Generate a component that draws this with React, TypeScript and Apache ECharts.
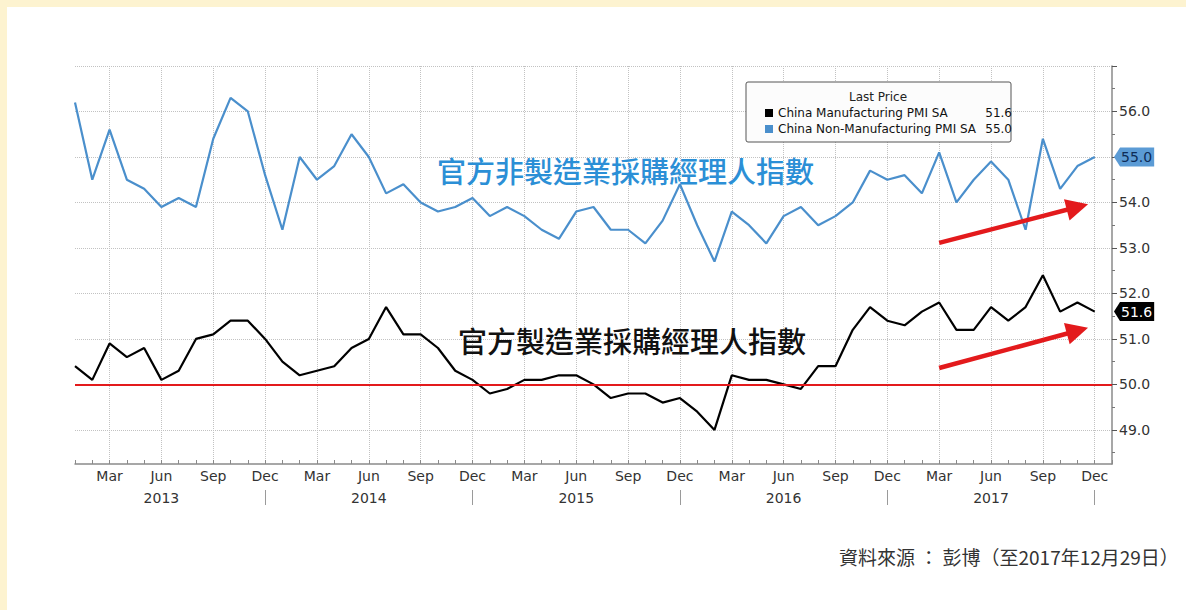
import React, { useEffect, useRef } from "react";
import * as echarts from "echarts";

// ---------- data ----------
const monthNames = ["Jan", "Feb", "Mar", "Apr", "May", "Jun", "Jul", "Aug", "Sep", "Oct", "Nov", "Dec"];
const years = [2013, 2014, 2015, 2016, 2017];
const categories: string[] = [];
years.forEach((y) => monthNames.forEach((_, i) => categories.push(`${y}-${String(i + 1).padStart(2, "0")}`)));
categories.push("2018-01"); // empty slot to the right of the last month

const mfgName = "China Manufacturing PMI SA";
const nonMfgName = "China Non-Manufacturing PMI SA";

const manufacturing = [
  50.4, 50.1, 50.9, 50.6, 50.8, 50.1, 50.3, 51.0, 51.1, 51.4, 51.4, 51.0,
  50.5, 50.2, 50.3, 50.4, 50.8, 51.0, 51.7, 51.1, 51.1, 50.8, 50.3, 50.1,
  49.8, 49.9, 50.1, 50.1, 50.2, 50.2, 50.0, 49.7, 49.8, 49.8, 49.6, 49.7,
  49.4, 49.0, 50.2, 50.1, 50.1, 50.0, 49.9, 50.4, 50.4, 51.2, 51.7, 51.4,
  51.3, 51.6, 51.8, 51.2, 51.2, 51.7, 51.4, 51.7, 52.4, 51.6, 51.8, 51.6,
];
const nonManufacturing = [
  56.2, 54.5, 55.6, 54.5, 54.3, 53.9, 54.1, 53.9, 55.4, 56.3, 56.0, 54.6,
  53.4, 55.0, 54.5, 54.8, 55.5, 55.0, 54.2, 54.4, 54.0, 53.8, 53.9, 54.1,
  53.7, 53.9, 53.7, 53.4, 53.2, 53.8, 53.9, 53.4, 53.4, 53.1, 53.6, 54.4,
  53.5, 52.7, 53.8, 53.5, 53.1, 53.7, 53.9, 53.5, 53.7, 54.0, 54.7, 54.5,
  54.6, 54.2, 55.1, 54.0, 54.5, 54.9, 54.5, 53.4, 55.4, 54.3, 54.8, 55.0,
];

const yMin = 48.25;
const yMax = 57;
const yTickValues = [49, 50, 51, 52, 53, 54, 55, 56, 57];
const yLabelValues = [49, 50, 51, 52, 53, 54, 55, 56];
const yMinorTickValues = [48.5, 49.5, 50.5, 51.5, 52.5, 53.5, 54.5, 55.5, 56.5];
const thresholdLine = 50;

// trend arrows: [startIndex, startValue, endIndex, endValue]
const upperArrow = [50, 53.11, 57.78, 53.9];
const lowerArrow = [50, 50.36, 57.78, 51.18];

const lastMfg = manufacturing[manufacturing.length - 1];
const lastNonMfg = nonManufacturing[nonManufacturing.length - 1];

const labelNonMfg = "官方非製造業採購經理人指數";
const labelMfg = "官方製造業採購經理人指數";
const sourceText = "資料來源 ： 彭博（至2017年12月29日）";

// ---------- style ----------
const latin = "'DejaVu Sans', Verdana, sans-serif";
const cjk = "'Noto Sans CJK TC', 'Noto Sans CJK SC', sans-serif";
const blue = "#4a8fcc";
const tagBlue = "#5b9bd5";
const red = "#e31a1c";
const gridStyle = { color: "#c2c2c2", type: "dotted" as const, width: 1 };

const triangle = (fill: string) =>
  "data:image/svg+xml;charset=utf-8," +
  encodeURIComponent(
    `<svg xmlns="http://www.w3.org/2000/svg" width="6" height="19" viewBox="0 0 6 19"><polygon points="6,0 0,9.5 6,19" fill="${fill}"/></svg>`
  );

export default function App() {
  const ref = useRef<HTMLDivElement>(null);

  useEffect(() => {
    if (!ref.current) return;
    const chart = echarts.init(ref.current, undefined, { renderer: "svg" });

    const option: any = {
      animation: false,
      grid: { left: 75, right: 74, top: 66, bottom: 146 },
      legend: {
        data: [mfgName, nonMfgName],
        orient: "vertical",
        left: 760,
        top: 101,
        itemWidth: 8,
        itemHeight: 8,
        itemGap: 2,
        icon: "rect",
        selectedMode: false,
        z: 6,
        formatter: (name: string) =>
          `{n|${name}}{v|${(name === mfgName ? lastMfg : lastNonMfg).toFixed(1)}}`,
        textStyle: {
          fontFamily: latin,
          fontSize: 12,
          color: "#111",
          lineHeight: 14,
          rich: {
            n: { width: 204, fontFamily: latin, fontSize: 12, color: "#111" },
            v: { width: 30, align: "right", fontFamily: latin, fontSize: 12, color: "#111" },
          },
        },
      },
      xAxis: [
        {
          type: "category",
          data: categories,
          boundaryGap: false,
          axisLine: { show: true, lineStyle: { color: "#8a8a8a", width: 1.5 } },
          axisTick: { show: true, inside: true, length: 4, interval: 0, lineStyle: { color: "#8a8a8a" } },
          axisLabel: {
            interval: (i: number) => i % 3 === 2,
            formatter: (v: string) => monthNames[Number(v.slice(5)) - 1],
            color: "#333",
            fontSize: 14,
            fontFamily: latin,
            margin: 5,
          },
          splitLine: { show: true, interval: (i: number) => i % 3 === 2, lineStyle: gridStyle },
        },
        {
          type: "category",
          data: categories,
          boundaryGap: false,
          position: "bottom",
          offset: 26,
          axisLine: { show: false },
          axisTick: { show: true, interval: (i: number) => i % 12 === 11, length: 15, lineStyle: { color: "#9a9a9a" } },
          axisLabel: {
            interval: (i: number) => i % 12 === 5,
            formatter: (v: string) => v.slice(0, 4),
            color: "#333",
            fontSize: 14,
            fontFamily: latin,
            margin: 1,
          },
          splitLine: { show: false },
        },
      ],
      yAxis: [
        {
          type: "value",
          position: "right",
          min: yMin,
          max: yMax,
          axisLine: { show: true, lineStyle: { color: "#8a8a8a", width: 1.5 } },
          axisTick: { show: true, customValues: yTickValues, length: 5, lineStyle: { color: "#555" } },
          axisLabel: {
            customValues: yLabelValues,
            formatter: (v: number) => v.toFixed(1),
            margin: 7,
            color: "#333",
            fontSize: 14,
            fontFamily: latin,
          },
          splitLine: { show: true, lineStyle: gridStyle },
        },
        {
          type: "value",
          position: "right",
          min: yMin,
          max: yMax,
          axisLine: { show: false },
          axisTick: { show: true, customValues: yMinorTickValues, length: 3, lineStyle: { color: "#777" } },
          axisLabel: { show: false },
          splitLine: { show: false },
        },
        {
          type: "value",
          position: "right",
          min: yMin,
          max: yMax,
          axisLine: { show: false },
          axisTick: { show: false },
          splitLine: { show: false },
          axisLabel: {
            customValues: [lastNonMfg, lastMfg],
            margin: 2,
            formatter: (v: number) =>
              Math.abs(v - lastNonMfg) < 1e-9 ? `{tb|}{b|${v.toFixed(1)}}` : `{tk|}{k|${v.toFixed(1)}}`,
            rich: {
              tb: { width: 6, height: 19, backgroundColor: { image: triangle(tagBlue) } },
              b: {
                backgroundColor: tagBlue,
                color: "#0d2b57",
                fontSize: 14,
                fontFamily: latin,
                height: 19,
                lineHeight: 19,
                padding: [0, 2, 0, 1],
              },
              tk: { width: 6, height: 19, backgroundColor: { image: triangle("#000") } },
              k: {
                backgroundColor: "#000",
                color: "#fff",
                fontSize: 14,
                fontFamily: latin,
                height: 19,
                lineHeight: 19,
                padding: [0, 2, 0, 1],
              },
            },
          },
        },
      ],
      series: [
        {
          name: nonMfgName,
          type: "line",
          data: nonManufacturing,
          xAxisIndex: 0,
          yAxisIndex: 0,
          showSymbol: false,
          symbol: "none",
          color: blue,
          lineStyle: { color: blue, width: 2.2 },
          z: 2,
          markLine: {
            silent: true,
            symbol: ["none", "none"],
            label: { show: false },
            lineStyle: { color: red, width: 2, type: "solid" },
            data: [{ yAxis: thresholdLine }],
          },
        },
        {
          name: mfgName,
          type: "line",
          data: manufacturing,
          xAxisIndex: 0,
          yAxisIndex: 0,
          showSymbol: false,
          symbol: "none",
          color: "#000",
          lineStyle: { color: "#000", width: 2.2 },
          z: 3,
          markLine: {
            silent: true,
            label: { show: false },
            lineStyle: { color: red, width: 4.5, type: "solid" },
            data: [upperArrow, lowerArrow].map((a) => [
              { coord: [a[0], a[1]], symbol: "none" },
              { coord: [a[2], a[3]], symbol: "triangle", symbolSize: 22 },
            ]),
          },
        },
      ],
      graphic: [
        {
          type: "rect",
          z: 5,
          shape: { x: 746, y: 82, width: 265, height: 60, r: 2 },
          style: { fill: "#fcfcfc", stroke: "#555", lineWidth: 1 },
        },
        {
          type: "text",
          z: 7,
          x: 878,
          y: 97,
          style: { text: "Last Price", font: `12px ${latin}`, fill: "#222", textAlign: "center", textVerticalAlign: "middle" },
        },
        {
          type: "text",
          z: 7,
          x: 437,
          y: 170,
          style: { text: labelNonMfg, font: `500 29px ${cjk}`, fill: "#2b8fd6", textVerticalAlign: "middle" },
        },
        {
          type: "text",
          z: 7,
          x: 458,
          y: 340,
          style: { text: labelMfg, font: `500 29px ${cjk}`, fill: "#111", textVerticalAlign: "middle" },
        },
        {
          type: "text",
          z: 7,
          x: 839,
          y: 556,
          style: { text: sourceText, font: `19px ${cjk}`, fill: "#333", textVerticalAlign: "middle" },
        },
      ],
    };

    chart.setOption(option);
    return () => chart.dispose();
  }, []);

  return (
    <div style={{ position: "fixed", left: 0, top: 0, width: 1186, height: 610, background: "#fdf3d0", overflow: "hidden" }}>
      <div style={{ position: "absolute", left: 7, top: 7, right: 0, bottom: 0, background: "#fff" }} />
      <div ref={ref} style={{ position: "absolute", left: 0, top: 0, width: 1186, height: 610 }} />
    </div>
  );
}
